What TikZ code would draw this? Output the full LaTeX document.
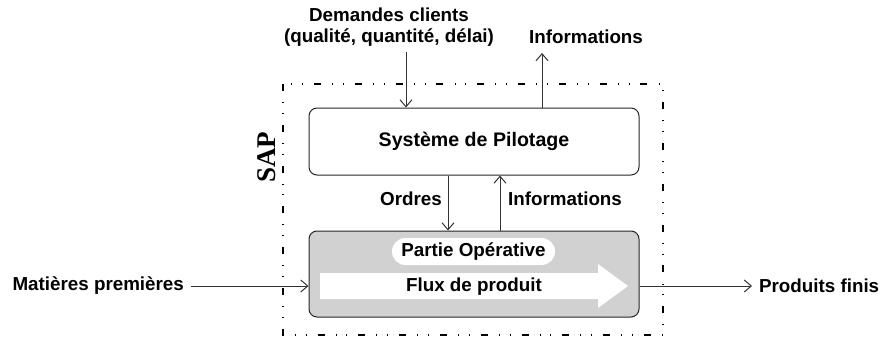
\documentclass[tikz,border=0pt]{standalone}
\usepackage{fontspec}
\setmainfont{Liberation Sans}
\newfontfamily\serifbf{Liberation Serif}
\usetikzlibrary{arrows.meta, positioning}
\tikzset{
	>={Straight Barb[length=3.5pt,width=6pt]}, % pointes ouvertes
	every node/.style={font=\fontsize{9.4}{10.2}\selectfont\bfseries}, % texte gras
	bloc/.style={draw=black!85, line width=0.5pt, rounded corners=4pt, minimum width=165pt}, % cadres
	fleche/.style={->, draw=black!80, line width=0.5pt}, % connecteurs
	cadre/.style={line width=0.7pt, dash pattern=on 3.5pt off 5.5pt on 0.4pt off 5pt on 0.4pt off 5.6pt} % frontiere du SAP
}
\begin{document}
\begin{tikzpicture}[x=0.5pt, y=-0.5pt]
	\useasboundingbox (0,0) rectangle (884,338);
	\draw[cadre] (283,84) rectangle (663,335);
	\node[rotate=90, font=\fontsize{13.5}{14}\serifbf\bfseries] (sap) at (267,157) {SAP};
	\node[bloc, minimum height=33.5pt, font=\fontsize{9.8}{10.3}\selectfont\bfseries] (sp) at (474,141.5) {Système de Pilotage};
	\node[bloc, fill=black!18, minimum height=43pt] (po) at (474,274) {};
	\fill[white] (320,273) -- (598,273) -- (598,264) -- (628,286) -- (598,308) -- (598,299) -- (320,299) -- cycle;
	\node (flux) at (474,286.5) {Flux de produit};
	\node[fill=white, rounded corners=6.7pt, minimum width=81.5pt, minimum height=13.5pt, inner sep=0pt] (part) at (473.5,251.5) {Partie Opérative};
	\node[align=center] (dem) at (389,27) {Demandes clients\\(qualité, quantité, délai)};
	\node (infoT) at (586,37) {Informations};
	\node (ordres) at (411,199) {Ordres};
	\node (infoM) at (565,199) {Informations};
	\node[anchor=east] (mat) at (191,286) {Matières premières};
	\node[anchor=west] (prod) at (752,286) {Produits finis};
	\coordinate (c1) at (406,52);
	\coordinate (c2) at (542,53);
	\coordinate (c3) at (448,0);
	\coordinate (c4) at (500,0);
	\draw[fleche] (c1) -- (sp.north -| c1);
	\draw[fleche] (sp.north -| c2) -- (c2);
	\draw[fleche] (sp.south -| c3) -- (po.north -| c3);
	\draw[fleche] (po.north -| c4) -- (sp.south -| c4);
	\draw[fleche] (mat.east) -- (mat.east -| po.west);
	\draw[fleche] (po.east |- prod.west) -- (prod.west);
\end{tikzpicture}
\end{document}
